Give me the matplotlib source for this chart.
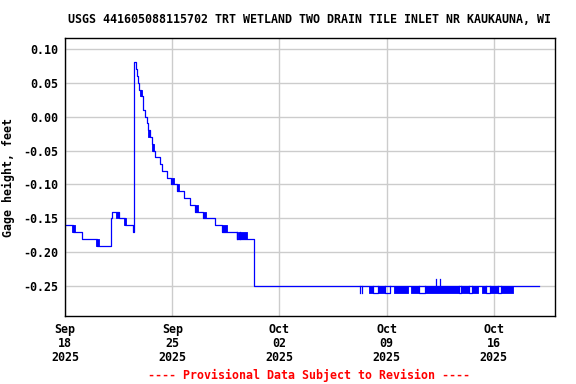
import pandas as pd
import matplotlib
matplotlib.use("Agg")
import matplotlib.pyplot as plt
import matplotlib.dates as mdates

# Gage height readings, step data: days since 2025-09-18 00:00 and value (feet)
start = pd.Timestamp("2025-09-18")
step_days = [0.00, 0.54, 1.09, 2.10, 3.00, 3.05, 3.49, 3.92, 4.45, 4.48,
             4.51, 4.64, 4.68, 4.75, 4.84, 4.97, 5.06, 5.12, 5.23, 5.32,
             5.40, 5.53, 5.66, 5.77, 5.88, 6.17, 6.32, 6.64, 6.93, 7.32,
             7.80, 8.17, 8.50, 9.04, 9.76, 10.24, 11.22, 12.31, 30.98]
step_vals = [-0.16, -0.17, -0.18, -0.19, -0.15, -0.14, -0.15, -0.16, -0.17, -0.16,
             0.08, 0.07, 0.06, 0.05, 0.04, 0.03, 0.02, 0.01, 0.00, -0.01,
             -0.02, -0.03, -0.04, -0.05, -0.06, -0.07, -0.08, -0.09, -0.10, -0.11,
             -0.12, -0.13, -0.14, -0.15, -0.16, -0.17, -0.18, -0.25, -0.25]

# periods where the reading flickers between two levels (start day, end day, low, high)
flicker = [(0.44, 0.65, -0.17, -0.16), (2.03, 2.24, -0.19, -0.18),
           (3.35, 3.53, -0.15, -0.14), (3.86, 3.99, -0.16, -0.15),
           (4.90, 5.01, 0.03, 0.04), (5.40, 5.53, -0.03, -0.02),
           (5.66, 5.82, -0.05, -0.04), (6.91, 7.10, -0.10, -0.09),
           (7.32, 7.47, -0.11, -0.10), (8.50, 8.67, -0.14, -0.13),
           (9.00, 9.22, -0.15, -0.14), (10.24, 10.57, -0.17, -0.16),
           (11.29, 11.87, -0.18, -0.17),
           (19.87, 20.13, -0.26, -0.25), (20.46, 20.92, -0.26, -0.25),
           (21.50, 22.42, -0.26, -0.25), (22.61, 23.14, -0.26, -0.25),
           (23.53, 25.75, -0.26, -0.25), (25.88, 26.41, -0.26, -0.25),
           (26.60, 26.99, -0.26, -0.25), (27.25, 27.52, -0.26, -0.25),
           (27.78, 28.30, -0.26, -0.25), (28.50, 29.28, -0.26, -0.25)]

# stretches sitting on the lower level between flicker periods (start day, end day, value)
low_runs = [(20.13, 20.46, -0.26), (20.92, 21.20, -0.26), (23.14, 23.53, -0.26),
            (25.75, 25.88, -0.26), (26.41, 26.60, -0.26), (27.52, 27.78, -0.26),
            (28.30, 28.50, -0.26)]

# single short readings away from the base level (day, value, base)
blips = [(11.20, -0.18, -0.17), (11.45, -0.18, -0.17),
         (19.28, -0.26, -0.25), (19.41, -0.26, -0.25),
         (24.25, -0.24, -0.25), (24.46, -0.24, -0.25)]

title = "USGS 441605088115702 TRT WETLAND TWO DRAIN TILE INLET NR KAUKAUNA, WI"
ylabel = "Gage height, feet"
note = "---- Provisional Data Subject to Revision ----"
yticks = [0.10, 0.05, 0.00, -0.05, -0.10, -0.15, -0.20, -0.25]
xticks = ["2025-09-18", "2025-09-25", "2025-10-02", "2025-10-09", "2025-10-16"]

font = "DejaVu Sans Mono"
blue = "#0000ff"

def to_time(d):
    return start + pd.to_timedelta(d, unit="D")

fig = plt.figure(figsize=(5.76, 3.84), dpi=100)
ax = fig.add_axes([0.113, 0.177, 0.8505, 0.724])

times = [to_time(d) for d in step_days]
ax.step(times, step_vals, where="post", color=blue, lw=0.9)

for d0, d1, lo, hi in flicker:
    ax.fill_between([to_time(d0), to_time(d1)], [lo, lo], [hi, hi],
                    color=blue, lw=0.6, edgecolor=blue)

for d0, d1, v in low_runs:
    ax.plot([to_time(d0), to_time(d0), to_time(d1), to_time(d1)],
            [-0.25, v, v, -0.25], color=blue, lw=0.9)

for d, v, base in blips:
    t = to_time(d)
    ax.plot([t, t], [base, v], color=blue, lw=0.9)

ax.set_xlim(to_time(0), to_time(32))
ax.set_ylim(-0.294, 0.116)
ax.set_yticks(yticks)
ax.set_yticklabels([f"{v:.2f}" for v in yticks])
ax.set_xticks([pd.Timestamp(t) for t in xticks])
ax.xaxis.set_major_formatter(mdates.DateFormatter("%b\n%d\n%Y"))

ax.grid(True, color="#cccccc", lw=1.0)
ax.set_axisbelow(True)
for s in ax.spines.values():
    s.set_linewidth(1.0)
    s.set_color("black")
ax.tick_params(length=0, pad=5, labelsize=8.4)
for lab in ax.get_xticklabels() + ax.get_yticklabels():
    lab.set_family(font)
    lab.set_fontweight("bold")
for lab in ax.get_xticklabels():
    lab.set_linespacing(1.1)

ax.set_ylabel(ylabel, family=font, fontweight="bold", fontsize=8.4, labelpad=6)
fig.text(0.538, 0.950, title, family=font, fontweight="bold", fontsize=8.4,
         ha="center", va="center")
fig.text(0.537, 0.021, note, family=font, fontweight="bold", fontsize=8.4,
         ha="center", va="center", color="red")

fig.savefig("out.png", dpi=100)
